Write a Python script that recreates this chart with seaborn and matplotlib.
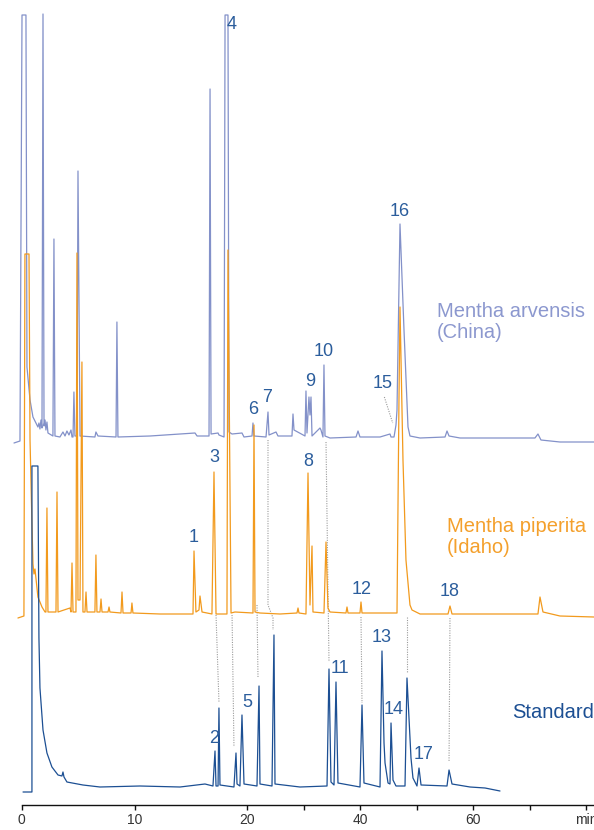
import numpy as np
import pandas as pd
import matplotlib
matplotlib.use("Agg")
import matplotlib.pyplot as plt
import seaborn as sns

# chromatograms: retention time (min) and signal above each trace's own baseline
std_time = [0.12, 0.91, 0.91, 1.44, 1.53, 1.62, 1.89, 2.24, 2.68, 3.22,
            3.57, 3.66, 3.75, 4.01, 5.43, 6.94, 10.48, 14.03, 16.24, 16.95,
            17.13, 17.22, 17.40, 17.48, 17.57, 18.81, 18.99, 19.08, 19.34, 19.52,
            19.70, 21.70, 22.06, 22.23, 24.36, 24.71, 24.89, 29.32, 34.11, 34.46,
            34.81, 35.35, 35.70, 36.05, 39.95, 40.31, 40.66, 43.50, 43.85, 44.21,
            44.39, 44.92, 45.27, 45.45, 45.80, 46.33, 47.93, 48.28, 48.99, 49.34,
            50.05, 50.41, 50.77, 55.37, 55.73, 56.26, 59.45, 62.11, 64.76]
std_signal = [-4, -4, 322, 322, 150, 100, 58, 35, 21, 13,
              12, 16, 11, 6, 3, 1, 2, 1, 4, 2,
              37, 2, 2, 80, 3, 1, 35, 4, 2, 73,
              4, 2, 102, 4, 2, 153, 4, 1, 2, 119,
              6, 3, 106, 5, 1, 83, 5, 1, 137, 45,
              25, 5, 4, 65, 8, 2, 2, 110, 30, 10,
              2, 20, 3, 2, 18, 4, 1, 0, -3]

pip_time = [-0.33, 0.20, 0.29, 0.65, 0.74, 0.91, 1.00, 1.09, 1.18, 1.44, 1.80, 2.07,
            2.15, 2.24, 2.33, 3.04, 3.13, 3.22, 4.28, 4.37, 4.46, 4.55, 4.81, 4.90,
            4.99, 5.17, 5.34, 5.43, 5.61, 5.70, 5.79,
            6.49, 6.58, 6.67, 6.94, 7.03, 7.12, 7.65, 7.74, 7.82, 8.80, 8.89, 8.98,
            9.69, 9.77, 9.86,
            12.26, 14.91, 15.18, 15.27, 15.44, 15.71, 15.80, 15.98, 16.86, 17.04,
            17.22, 18.19, 18.28, 18.55, 18.90,
            20.99, 21.17, 21.35, 22.23, 25.78, 28.79, 28.97, 29.14, 30.38, 30.74,
            31.09, 31.45, 31.62,
            33.57, 33.93, 34.28, 34.64, 37.47, 37.65, 37.83, 39.95, 40.13, 40.31,
            46.51, 46.86, 47.04, 47.57, 48.10, 48.81, 49.17, 50.59, 55.55, 55.90,
            56.26, 71.49, 71.85, 72.38, 75.39, 81.42]
pip_signal = [-4, -2, 360, 360, 174, 91, 50, 40, 45, 17, 7, 2,
              2, 106, 2, 2, 122, 2, 6, 2, 51, 2, 2, 361,
              14, 14, 252, 2, 2, 22, 2,
              2, 59, 2, 2, 15, 2, 2, 7, 2, 1, 22, 1,
              1, 11, 1,
              0, 0, 0, 63, 2, 4, 18, 2, 0, 142,
              0, 0, 364, 1, 2,
              1, 189, 2, 1, 0, 1, 6, 1, 0, 141,
              9, 68, 2,
              1, 72, 6, 2, 1, 7, 1, 1, 12, 1,
              1, 214, 307, 154, 54, 9, 4, 0, 0, 8,
              0, 0, 17, 2, -2, -3]

arv_time = [-0.68, -0.15, 0.03, 0.38, 0.47, 0.74, 1.00, 1.44, 1.53, 1.62, 1.71, 1.80,
            1.89, 1.98, 2.07, 2.15, 2.24, 2.33,
            2.77, 2.86, 2.95, 3.39, 3.66, 3.84, 4.01, 4.19, 4.37, 4.46, 4.55, 4.63,
            4.72, 4.90, 4.99, 5.17,
            6.49, 6.58, 6.76, 8.36, 8.44, 8.53, 11.37, 15.36, 15.54, 16.60, 16.69,
            16.78, 17.40, 17.48, 17.93, 18.02, 18.28, 18.37, 18.64, 19.52, 19.70,
            20.82, 20.99, 21.17, 23.30, 23.65, 23.83, 25.07, 25.42, 27.90, 28.08,
            28.26, 30.21, 30.38, 30.56, 30.91, 31.09, 31.27, 31.45,
            32.69, 32.86, 33.04, 33.39, 33.57, 33.75, 34.64, 39.25, 39.60, 39.95,
            43.50, 45.27, 45.45, 45.98, 46.33, 46.51, 47.04, 47.75, 48.46, 48.81, 50.59,
            55.02, 55.37, 55.73, 57.68, 70.96, 71.49, 72.02, 75.39, 81.42]
arv_signal = [-6, -4, 422, 422, 70, 37, 20, 10, 14, 8, 17, 9,
              423, 11, 17, 7, 15, 4,
              1, 198, 1, 0, 5, 1, 6, 2, 7, 0, 0, 45,
              1, 1, 266, 1,
              0, 5, 1, 0, 115, 0, 1, 4, 1, 1, 348,
              3, 4, 2, 0, 422, 422, 5, 3, 4, 0,
              1, 14, 1, 0, 25, 2, 5, 1, 1, 23,
              7, 1, 46, 4, 40, 22, 40, 1,
              8, 9, 7, 0, 72, 1, -1, 0, 6, 0,
              0, 3, 0, 0, 12, 27, 213, 107, 10, 1, -1,
              0, 6, 1, -1, -1, 3, -3, -5, -5]

traces = ["Mentha arvensis", "Mentha piperita", "Standard"]
baselines = [368, 191, 17]

# numbered peaks
peak_ids = ["1", "2", "3", "4", "5", "6", "7", "8", "9",
            "10", "11", "12", "13", "14", "15", "16", "17", "18"]
peak_time = [15.27, 17.04, 17.04, 18.63, 19.96, 20.99, 23.48, 30.74, 31.09,
             33.57, 36.41, 40.31, 43.85, 45.98, 43.97, 47.04, 51.13, 55.90]
peak_y = [267, 67, 348, 780, 103, 396, 408, 344, 423,
          453, 137, 216, 168, 96, 422, 594, 51, 213]

# dotted guides from sample peaks to the standard
guide_time = [[17.22, 17.48], [18.64, 18.81], [21.70, 21.88],
              [23.65, 23.65, 24.54, 24.54], [33.93, 34.46], [40.13, 40.31],
              [48.28, 48.28], [55.90, 55.73], [44.27, 45.75]]
guide_y = [[190, 103], [190, 58], [200, 127], [365, 200, 187, 175],
           [363, 143], [188, 102], [188, 133], [187, 43], [408, 382]]

tick_pos = [0, 10, 20, 30, 40, 50, 60, 70, 80]
tick_labels = ["0", "10", "20", "", "40", "", "60", "", "min"]

arv_color = "#8391c9"
pip_color = "#f29a1d"
std_color = "#1c4f93"
num_color = "#2b5d9c"

sns.set_theme(style="white")
plt.rcParams["font.family"] = ["Liberation Sans", "DejaVu Sans"]

frames = []
for name, t, s, b in zip(traces, [arv_time, pip_time, std_time],
                         [arv_signal, pip_signal, std_signal], baselines):
    frames.append(pd.DataFrame({"time": t, "signal": np.array(s) + b, "trace": name}))
df = pd.concat(frames, ignore_index=True)


# time axis: first 20 min drawn at twice the scale of the rest
def fwd(t):
    t = np.asarray(t, dtype=float)
    return np.where(t < 20, t / 5.0, 4.0 + (t - 20) / 10.0)


def inv(u):
    u = np.asarray(u, dtype=float)
    return np.where(u < 4, u * 5.0, 20.0 + (u - 4) * 10.0)


fig = plt.figure(figsize=(5.94, 8.30), dpi=100)
ax = fig.add_axes([0, 25 / 830, 1, 805 / 830])
ax.set_xscale("function", functions=(fwd, inv))

sns.lineplot(data=df, x="time", y="signal", hue="trace", hue_order=traces,
             palette=[arv_color, pip_color, std_color], sort=False,
             estimator=None, lw=0.9, legend=False, ax=ax)

for gx, gy in zip(guide_time, guide_y):
    ax.plot(gx, gy, color="#9a9a9a", lw=0.8, ls=(0, (1, 1.2)), zorder=1)

for pid, px, py in zip(peak_ids, peak_time, peak_y):
    ax.text(px, py, pid, color=num_color, fontsize=13, ha="center", va="center")

ax.text(53.6, 483, "Mentha arvensis\n(China)", color="#8c98cf", fontsize=14.5,
        ha="left", va="center", linespacing=1.15)
ax.text(55.37, 268, "Mentha piperita\n(Idaho)", color="#f4a02c", fontsize=14.5,
        ha="left", va="center", linespacing=1.15)
ax.text(66.9, 93, "Standard", color=std_color, fontsize=14.5, ha="left", va="center")

ax.set_xlim(-1.92, 81.42)
ax.set_ylim(0, 805)
ax.set_xticks(tick_pos)
ax.set_xticklabels(tick_labels)
ax.set_yticks([])
ax.set_xlabel("")
ax.set_ylabel("")
for side in ["left", "right", "top"]:
    ax.spines[side].set_visible(False)
ax.spines["bottom"].set_bounds(0, 81.42)
ax.spines["bottom"].set_color("#111111")
ax.spines["bottom"].set_linewidth(1.0)
ax.tick_params(axis="x", direction="out", length=3.5, width=1.0, color="#111111",
               labelsize=10, labelcolor="#333333", pad=2, bottom=True)
ax.patch.set_alpha(0)

fig.savefig("out.png", dpi=100)
